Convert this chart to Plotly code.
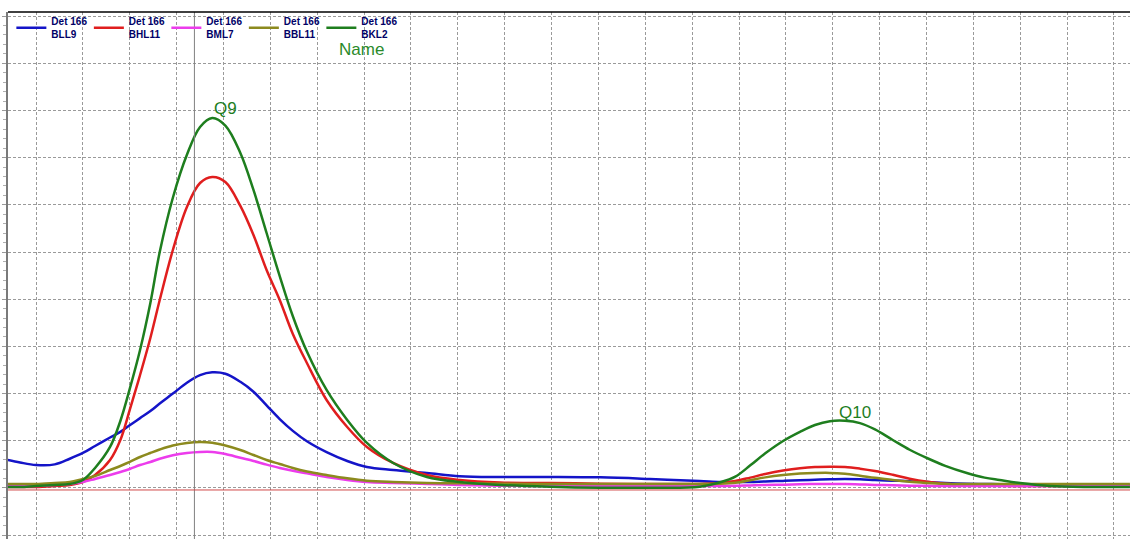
import plotly.graph_objects as go

# Retention time (min) shared by all detector traces
time_min = [9.70, 9.83, 10.00, 10.20, 10.36, 10.50, 10.63, 10.79, 10.90, 11.00,
            11.11, 11.22, 11.32, 11.46, 11.61, 11.75, 11.88, 12.02, 12.18, 12.32,
            12.46, 12.60, 12.74, 12.89, 13.10, 13.32, 13.53, 13.81, 14.17, 14.52,
            14.95, 15.48, 16.02, 16.55, 17.08, 17.30, 17.46, 17.62, 17.78, 17.97,
            18.15, 18.31, 18.47, 18.63, 18.79, 18.95, 19.14, 19.32, 19.51, 19.70,
            19.93, 20.12, 20.28, 20.50, 20.82, 21.24, 21.67]

# Detector response (mV)
bll9 = [5.93, 5.40, 4.87, 5.00, 6.20, 7.42, 8.90, 10.70, 11.90, 13.30,
        14.80, 16.30, 17.90, 20.00, 22.30, 23.90, 24.50, 24.20, 22.50, 20.40,
        17.50, 14.60, 12.10, 9.90, 7.60, 5.72, 4.45, 3.81, 3.18, 2.50,
        2.33, 2.33, 2.25, 1.91, 1.48, 1.27, 1.27, 1.27, 1.40, 1.50,
        1.65, 1.75, 1.85, 1.90, 1.85, 1.70, 1.55, 1.45, 1.27, 1.06,
        0.90, 0.85, 0.80, 0.70, 0.64, 0.64, 0.64]

bhl11 = [0.21, 0.21, 0.21, 0.42, 0.64, 1.27, 2.75, 5.93, 10.17, 16.53,
         23.94, 31.79, 39.84, 50.43, 59.54, 64.63, 65.90, 64.84, 59.76, 53.61,
         46.19, 39.84, 32.63, 26.49, 18.65, 12.93, 8.69, 5.30, 2.75, 1.70,
         1.15, 1.06, 0.90, 0.85, 0.85, 1.06, 1.48, 2.20, 2.97, 3.70,
         4.20, 4.45, 4.50, 4.45, 4.10, 3.60, 2.80, 1.95, 1.30, 0.90,
         0.64, 0.55, 0.45, 0.42, 0.42, 0.42, 0.42]

bml7 = [0.42, 0.42, 0.42, 0.64, 0.85, 1.27, 1.91, 2.75, 3.39, 4.03,
        4.87, 5.51, 6.20, 6.95, 7.42, 7.63, 7.63, 7.20, 6.40, 5.72,
        4.95, 4.24, 3.65, 3.10, 2.33, 1.70, 1.27, 1.06, 0.85, 0.64,
        0.50, 0.42, 0.42, 0.42, 0.42, 0.42, 0.45, 0.55, 0.64, 0.70,
        0.80, 0.85, 0.85, 0.85, 0.75, 0.65, 0.60, 0.50, 0.45, 0.42,
        0.42, 0.42, 0.42, 0.42, 0.42, 0.42, 0.42]

bbl11 = [0.85, 0.85, 0.85, 1.06, 1.27, 1.91, 2.54, 3.81, 4.66, 5.51,
         6.57, 7.42, 8.15, 9.00, 9.54, 9.75, 9.60, 9.00, 8.05, 6.99,
         5.93, 5.09, 4.24, 3.50, 2.75, 2.05, 1.55, 1.27, 1.06, 1.00,
         0.90, 0.85, 0.85, 0.85, 0.85, 0.88, 1.10, 1.65, 2.25, 2.75,
         3.05, 3.18, 3.20, 3.00, 2.60, 2.15, 1.70, 1.30, 1.06, 0.90,
         0.85, 0.85, 0.85, 0.85, 0.85, 0.85, 0.85]

bkl2 = [0.21, 0.21, 0.42, 0.64, 0.85, 1.70, 4.24, 8.69, 14.20, 21.00,
        29.24, 39.20, 50.00, 61.50, 70.60, 76.50, 78.41, 76.80, 70.99, 63.15,
        54.03, 44.90, 36.40, 28.90, 20.77, 14.41, 9.54, 5.30, 2.33, 1.27,
        0.64, 0.25, 0.05, 0.05, 0.25, 1.20, 2.40, 4.80, 7.35, 9.96,
        11.90, 13.35, 14.15, 14.25, 13.75, 12.40, 10.17, 8.10, 6.30, 4.70,
        3.18, 2.20, 1.70, 1.06, 0.42, 0.21, 0.21]

series_names = ["BLL9", "BHL11", "BML7", "BBL11", "BKL2"]
series_values = [bll9, bhl11, bml7, bbl11, bkl2]
series_colors = ["#1414c8", "#e01e1e", "#ec3cec", "#8c8a1e", "#1e7e1e"]
detector = "Det 166"

# Peak labels
peak_labels = ["Q9", "Q10"]
peak_times = [12.02, 18.74]
peak_heights = [80.5, 16.1]

cursor_time = 11.69
baseline_mv = -0.42

x_range = [9.7013, 21.6708]
y_range = [-10.81, 100.86]

fig = go.Figure()
for name, vals, col in zip(series_names, series_values, series_colors):
    fig.add_trace(go.Scatter(
        x=time_min, y=vals, mode="lines",
        name=f"{detector}<br>{name}",
        line=dict(color=col, width=2.5, shape="spline", smoothing=1.0),
    ))

for lbl, t, h in zip(peak_labels, peak_times, peak_heights):
    fig.add_annotation(x=t, y=h, text=lbl, showarrow=False,
                       xanchor="center", yanchor="middle",
                       font=dict(family="Arial", size=17, color="#1e7e1e"))

fig.add_annotation(xref="paper", yref="paper", x=0.293, y=0.928, text="Name",
                   showarrow=False, xanchor="left", yanchor="middle",
                   font=dict(family="Arial", size=17, color="#2a8a2a"))

# cursor line, baseline and top frame
fig.add_shape(type="line", xref="x", yref="paper", x0=cursor_time, x1=cursor_time,
              y0=0, y1=1, line=dict(color="#808080", width=1))
fig.add_shape(type="line", xref="paper", yref="y", x0=0, x1=1,
              y0=baseline_mv, y1=baseline_mv, line=dict(color="#d04848", width=1))
fig.add_shape(type="line", xref="paper", yref="paper", x0=0, x1=1, y0=1, y1=1,
              line=dict(color="#000000", width=1.5))

fig.update_xaxes(range=x_range, tick0=10, dtick=0.5, showgrid=True,
                 gridcolor="#9a9a9a", griddash="3px,2px", gridwidth=1,
                 showticklabels=False, zeroline=False, showline=False, ticks="")
fig.update_yaxes(range=y_range, tick0=0, dtick=10, showgrid=True,
                 gridcolor="#9a9a9a", griddash="3px,2px", gridwidth=1,
                 showticklabels=False, zeroline=False,
                 showline=True, linecolor="#7a7a7a", linewidth=2,
                 ticks="outside", ticklen=4, tickcolor="#9a9a9a",
                 minor=dict(ticks="outside", ticklen=3, dtick=2, tickcolor="#b0b0b0", showgrid=False))

fig.update_layout(
    width=1130, height=539,
    margin=dict(l=8, r=0, t=12, b=0),
    paper_bgcolor="white", plot_bgcolor="white",
    showlegend=True,
    legend=dict(orientation="h", x=0.003, y=1.007, xanchor="left", yanchor="top",
                bgcolor="rgba(0,0,0,0)", borderwidth=0,
                entrywidth=32.5, entrywidthmode="pixels", itemwidth=30,
                font=dict(family="Arial", size=10, color="#000066", weight="bold"),
                tracegroupgap=0),
)

fig.write_html("out.html")
